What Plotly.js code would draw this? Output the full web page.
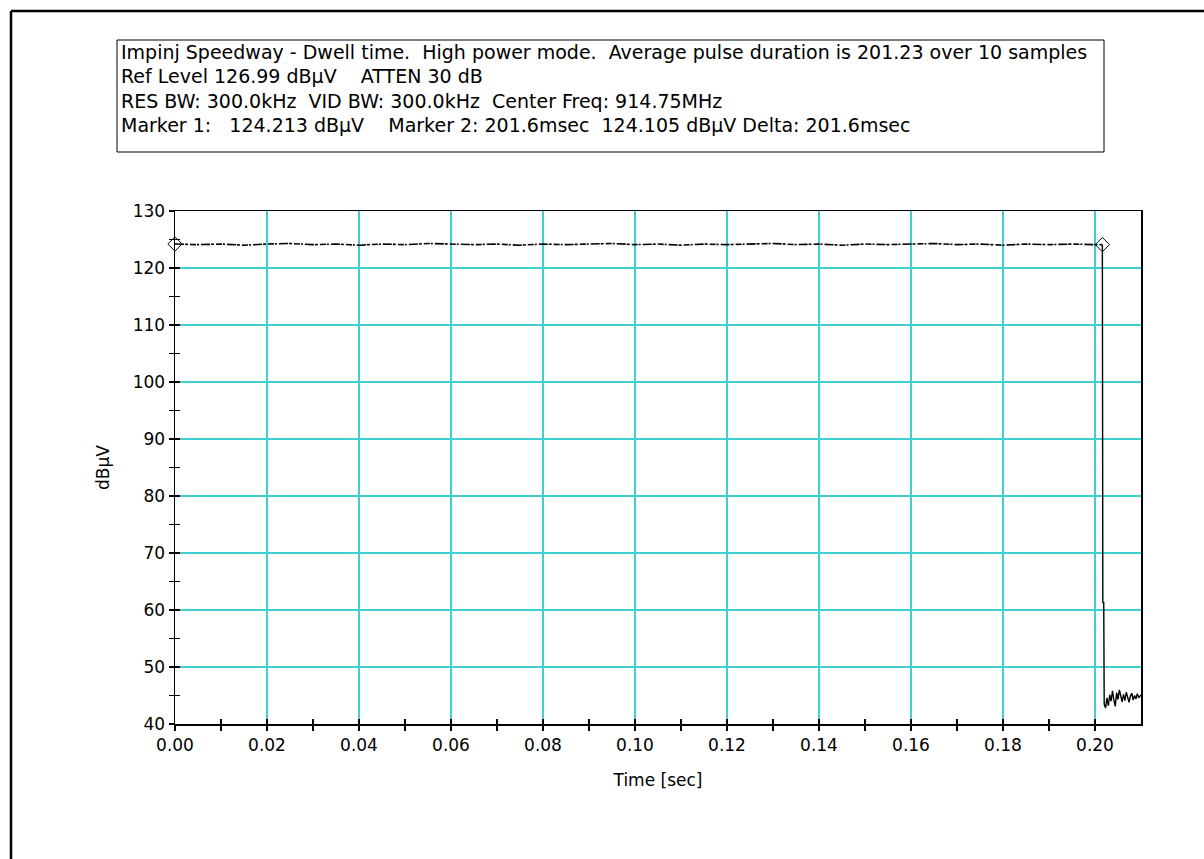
<!DOCTYPE html>
<html>
<head>
<meta charset="utf-8">
<script src="https://cdn.plot.ly/plotly-3.0.1.min.js"></script>
<style>html,body{margin:0;padding:0;background:#fff;}#chart{width:1204px;height:859px;}</style>
</head>
<body>
<div id="chart"></div>
<script>
// Header lines
const headerLines = [
  "Impinj Speedway - Dwell time.  High power mode.  Average pulse duration is 201.23 over 10 samples",
  "Ref Level 126.99 dB\u00b5V    ATTEN 30 dB",
  "RES BW: 300.0kHz  VID BW: 300.0kHz  Center Freq: 914.75MHz",
  "Marker 1:   124.213 dB\u00b5V    Marker 2: 201.6msec  124.105 dB\u00b5V Delta: 201.6msec"
];

// Trace: time (sec) and level (dBµV)
const timeSec = [
  0.000,0.005,0.010,0.015,0.020,0.025,0.030,0.035,0.040,0.045,
  0.050,0.055,0.060,0.065,0.070,0.075,0.080,0.085,0.090,0.095,
  0.100,0.105,0.110,0.115,0.120,0.125,0.130,0.135,0.140,0.145,
  0.150,0.155,0.160,0.165,0.170,0.175,0.180,0.185,0.190,0.195,
  0.2000,0.2016,0.2017,0.2019,0.2020,0.2023,0.2026,0.2029,0.2032,0.2035,
  0.2038,0.2041,0.2044,0.2047,0.2050,0.2053,0.2056,0.2059,0.2062,0.2065,
  0.2068,0.2071,0.2074,0.2077,0.2080,0.2083,0.2086,0.2089,0.2092,0.2095,
  0.2098,0.2100
];
const levelDb = [
  124.2,124.1,124.2,124.0,124.2,124.3,124.1,124.2,124.0,124.2,
  124.1,124.3,124.2,124.1,124.2,124.0,124.2,124.1,124.2,124.3,
  124.1,124.2,124.0,124.2,124.1,124.2,124.3,124.1,124.2,124.0,
  124.2,124.1,124.2,124.3,124.1,124.2,124.0,124.2,124.1,124.2,
  124.1,124.1,61.3,61.3,43.5,42.8,44.6,43.2,45.1,44.0,
  45.8,44.2,43.1,45.5,44.3,46.0,44.8,43.9,45.2,44.1,
  45.6,44.7,43.8,44.9,45.4,44.2,45.0,44.4,45.3,44.6,
  44.9,45.1
];

// Markers
const markerTime = [0.0, 0.2016];
const markerLevel = [124.213, 124.105];

// Axis ticks
const xTickVals = [0,0.02,0.04,0.06,0.08,0.10,0.12,0.14,0.16,0.18,0.20];
const xTickText = ["0.00","0.02","0.04","0.06","0.08","0.10","0.12","0.14","0.16","0.18","0.20"];
const xMinorVals = [0.01,0.03,0.05,0.07,0.09,0.11,0.13,0.15,0.17,0.19];
const yTickVals = [40,50,60,70,80,90,100,110,120,130];
const yMinorVals = [45,55,65,75,85,95,105,115,125];

const FONT = "DejaVu Sans, Verdana, sans-serif";
const xr = [0, 0.21], yr = [40, 130];

const traces = [
  {x: timeSec.slice(0, 42), y: levelDb.slice(0, 42), type: 'scatter', mode: 'lines',
   line: {color: '#000', width: 1.6, dash: '9px,1px,3px,2px,6px,1px,2px,2px'}, hoverinfo: 'skip'},
  {x: timeSec.slice(41), y: levelDb.slice(41), type: 'scatter', mode: 'lines',
   line: {color: '#000', width: 1.4}, hoverinfo: 'skip'},
  {x: markerTime, y: markerLevel, type: 'scatter', mode: 'markers', cliponaxis: false,
   marker: {symbol: 'diamond-open', size: 11, color: '#000', line: {width: 1, color: '#000'}}}
];

// pixel -> paper helpers (plot area: x 175..1141, y 211..724)
const L = 175, R = 1141, T = 211, B = 724;
const px = v => (v - L) / (R - L);
const py = v => (B - v) / (B - T);

const annotations = headerLines.map((t, i) => ({
  text: t, xref: 'paper', yref: 'paper', x: px(119), y: py(52 + i * 24.3),
  xanchor: 'left', yanchor: 'middle', showarrow: false, align: 'left',
  font: {family: FONT, size: 19, color: '#000'}
}));

const shapes = [
  {type: 'rect', xref: 'paper', yref: 'paper', x0: px(117), x1: px(1104), y0: py(152), y1: py(40),
   line: {color: '#000', width: 1}, fillcolor: 'rgba(0,0,0,0)'},
  {type: 'line', xref: 'paper', yref: 'paper', x0: px(11), x1: px(1210), y0: py(11), y1: py(11),
   line: {color: '#000', width: 2.5}},
  {type: 'line', xref: 'paper', yref: 'paper', x0: px(11), x1: px(11), y0: py(11), y1: py(870),
   line: {color: '#000', width: 2.5}}
];

const tickCommon = {ticklen: 5, tickwidth: 1.5, tickcolor: '#000'};

const layout = {
  width: 1204, height: 859,
  margin: {l: L, r: 1204 - R, t: T, b: 859 - B, pad: 0},
  paper_bgcolor: '#fff', plot_bgcolor: '#fff',
  showlegend: false,
  font: {family: FONT, size: 17, color: '#000'},
  xaxis: Object.assign({
    range: xr, tickvals: xTickVals, ticktext: xTickText,
    showgrid: true, gridcolor: '#40CFCF', gridwidth: 2,
    showline: true, linecolor: '#000', linewidth: 1.5, mirror: true,
    ticks: 'outside',
    minor: Object.assign({tickvals: xMinorVals, ticks: 'outside', showgrid: false}, tickCommon),
    zeroline: false, tickfont: {family: FONT, size: 17},
    title: {text: 'Time [sec]', font: {family: FONT, size: 17}, standoff: 20}
  }, tickCommon),
  yaxis: Object.assign({
    range: yr, tickvals: yTickVals,
    showgrid: true, gridcolor: '#40CFCF', gridwidth: 2,
    showline: true, linecolor: '#000', linewidth: 1.5, mirror: true,
    ticks: 'outside',
    minor: Object.assign({tickvals: yMinorVals, ticks: 'outside', showgrid: false}, tickCommon),
    zeroline: false, tickfont: {family: FONT, size: 17},
    title: {text: 'dB\u00b5V', font: {family: FONT, size: 17}, standoff: 18}
  }, tickCommon),
  xaxis2: Object.assign({range: xr, overlaying: 'x', anchor: 'y', side: 'bottom', tickvals: xTickVals,
    showticklabels: false, showgrid: false, showline: false, zeroline: false, ticks: 'inside',
    minor: Object.assign({tickvals: xMinorVals, ticks: 'inside'}, tickCommon)}, tickCommon),
  yaxis2: Object.assign({range: yr, overlaying: 'y', anchor: 'x', side: 'left', tickvals: yTickVals,
    showticklabels: false, showgrid: false, showline: false, zeroline: false, ticks: 'inside',
    minor: Object.assign({tickvals: yMinorVals, ticks: 'inside'}, tickCommon)}, tickCommon),
  annotations: annotations,
  shapes: shapes
};

// invisible trace to activate overlay axes
traces.push({x: [0], y: [40], xaxis: 'x2', yaxis: 'y2', mode: 'markers', marker: {opacity: 0}, hoverinfo: 'skip', type: 'scatter'});

Plotly.newPlot('chart', traces, layout, {displayModeBar: false, staticPlot: true});
</script>
</body>
</html>
